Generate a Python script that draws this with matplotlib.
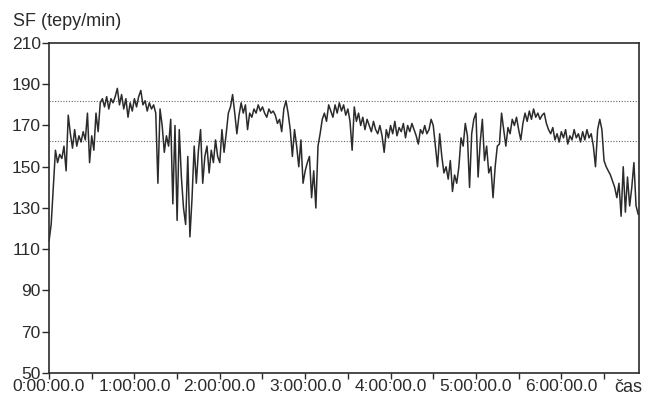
import matplotlib
matplotlib.use("Agg")
import matplotlib.pyplot as plt
import numpy as np

# heart rate record, one reading every 1.5 min
step_min = 1.5
hr = [
    114, 122, 140, 158, 152, 156, 154, 160, 148, 175,
    166, 159, 168, 160, 165, 162, 167, 163, 176, 152,
    165, 158, 176, 167, 181, 183, 179, 184, 178, 183,
    181, 184, 188, 180, 185, 178, 183, 174, 181, 177,
    183, 179, 184, 187, 180, 182, 177, 181, 178, 180,
    176, 142, 178, 170, 157, 165, 160, 173, 132, 170,
    124, 168, 145, 130, 122, 155, 116, 135, 160, 142,
    158, 168, 142, 155, 160, 147, 158, 152, 163, 155,
    152, 168, 157, 166, 176, 179, 185, 176, 166, 175,
    181, 176, 180, 168, 176, 174, 178, 176, 180, 177,
    179, 176, 174, 178, 176, 177, 175, 171, 173, 167,
    178, 182, 176, 168, 155, 168, 160, 150, 163, 142,
    148, 152, 155, 135, 148, 130, 160, 166, 173, 176,
    172, 180, 177, 174, 180, 176, 181, 177, 180, 175,
    178, 172, 158, 179, 172, 176, 170, 174, 168, 173,
    170, 167, 172, 168, 166, 170, 165, 157, 168, 164,
    170, 166, 172, 165, 169, 167, 171, 164, 170, 167,
    171, 168, 165, 161, 168, 166, 170, 166, 168, 173,
    170, 160, 150, 166, 155, 147, 150, 144, 153, 138,
    146, 142, 150, 164, 160, 171, 165, 140, 166, 173,
    176, 145, 162, 173, 153, 160, 147, 150, 135, 150,
    160, 161, 176, 168, 160, 169, 166, 173, 170, 174,
    168, 163, 171, 176, 172, 177, 173, 178, 174, 176,
    173, 175, 176, 171, 168, 166, 169, 163, 166, 162,
    167, 164, 168, 161, 165, 163, 168, 164, 166, 162,
    167, 163, 168, 164, 166, 160, 150, 168, 173, 168,
    153, 150, 148, 146, 143, 140, 135, 142, 126, 150,
    128, 145, 131, 140, 152, 131, 127,
]
t_min = np.arange(len(hr)) * step_min

zone_lines = [182, 162.5]
y_ticks = [50, 70, 90, 110, 130, 150, 170, 190, 210]
x_major = [0, 60, 120, 180, 240, 300, 360]
x_labels = ["0:00:00.0", "1:00:00.0", "2:00:00.0", "3:00:00.0",
            "4:00:00.0", "5:00:00.0", "6:00:00.0"]
x_minor = [30, 90, 150, 210, 270, 330, 390]

plt.rcParams['font.family'] = ['Liberation Sans', 'DejaVu Sans']
ink = '#2b2b2b'

fig = plt.figure(figsize=(6.46, 3.97), dpi=100)
ax = fig.add_axes([0.0759, 0.0605, 0.9131, 0.8312])

for y in zone_lines:
    ax.axhline(y, color='#666666', linestyle=(0, (1, 1.5)), linewidth=0.8)

ax.plot(t_min, hr, color=ink, linewidth=1.1)

ax.set_xlim(0, 414.5)
ax.set_ylim(50, 210)
ax.set_yticks(y_ticks)
ax.set_xticks(x_major)
ax.set_xticklabels(x_labels)
ax.set_xticks(x_minor, minor=True)

ax.tick_params(axis='both', which='both', direction='out', length=5,
               width=1.0, color=ink, labelsize=12.5, labelcolor=ink)
ax.tick_params(axis='x', which='both', length=4, pad=0.5)
ax.tick_params(axis='y', pad=1)
for s in ax.spines.values():
    s.set_color(ink)
    s.set_linewidth(1.2)

fig.text(13 / 646, 1 - 22 / 397, "SF (tepy/min)", ha='left', va='center',
         fontsize=13, color=ink)
fig.text(628 / 646, 1 - 387 / 397, "čas", ha='center', va='center',
         fontsize=13, color=ink)

fig.savefig("out.png", dpi=100)
